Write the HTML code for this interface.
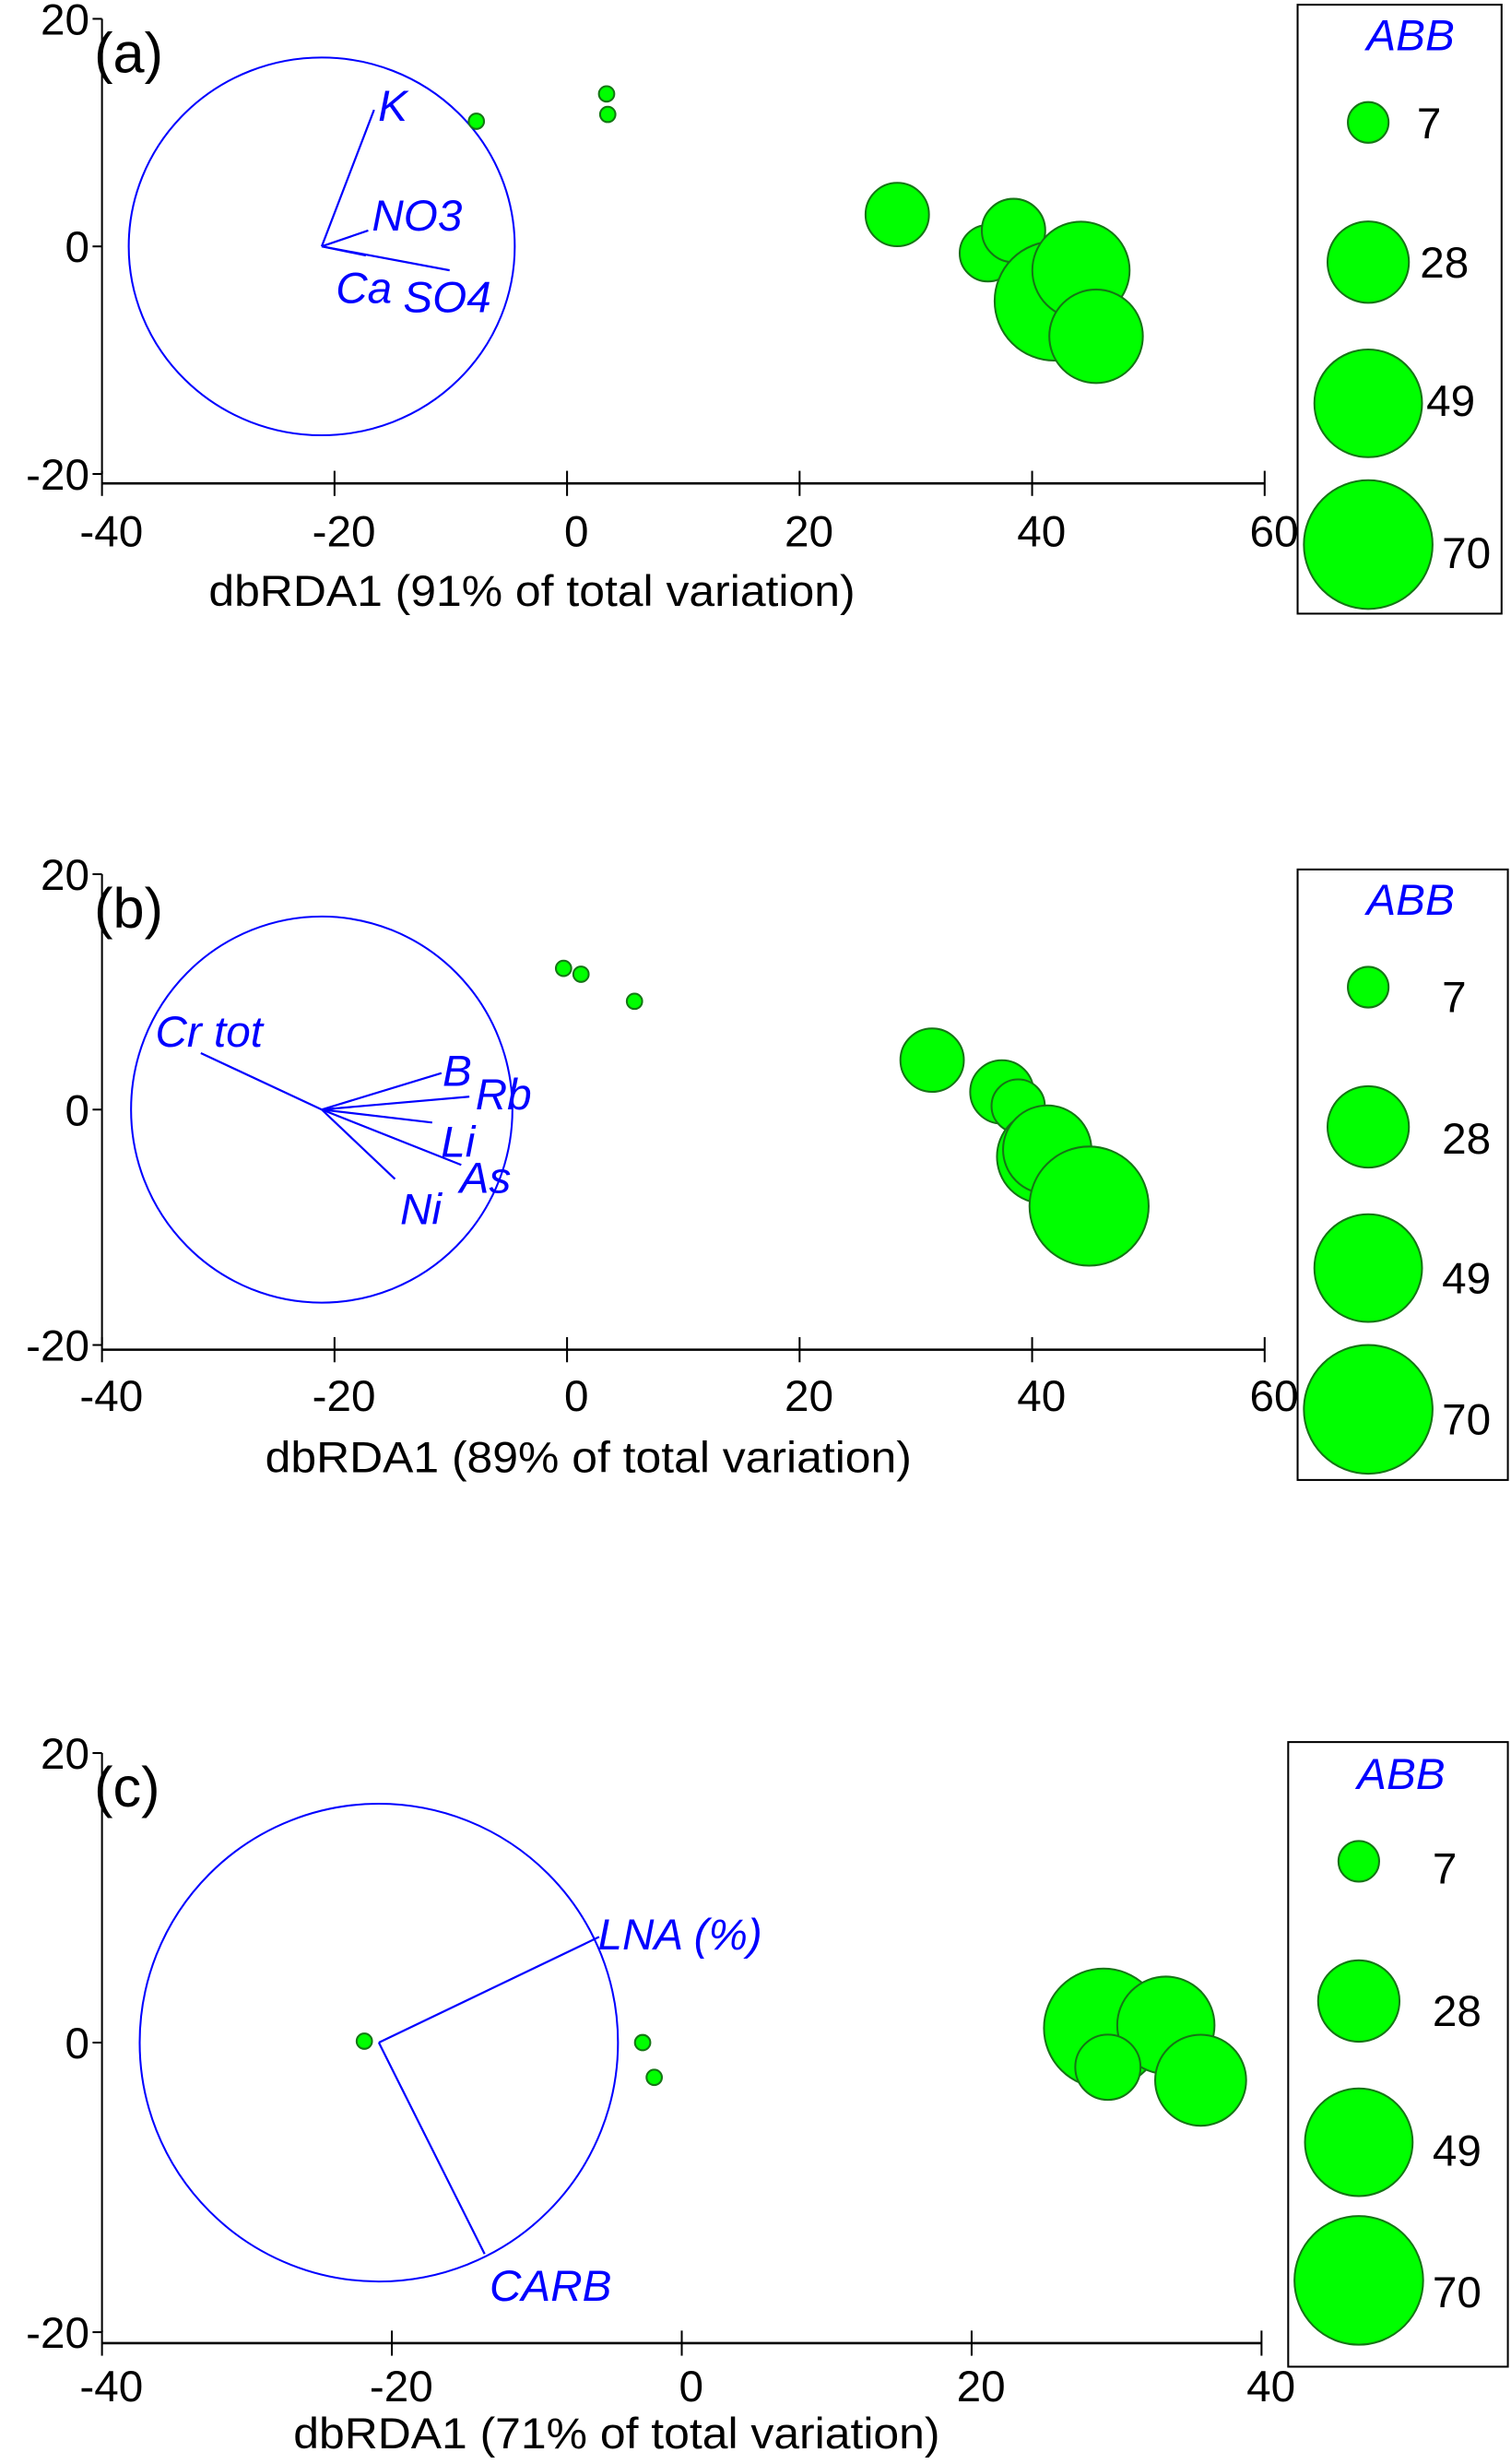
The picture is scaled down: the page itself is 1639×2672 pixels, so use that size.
<!DOCTYPE html>
<html><head><meta charset="utf-8">
<style>
html,body{margin:0;padding:0;background:#fff;}
svg{display:block;}
text{font-family:"Liberation Sans",sans-serif;}
</style></head>
<body>
<svg id="chart" width="1639" height="2672" viewBox="0 0 963 1570" preserveAspectRatio="none" xmlns="http://www.w3.org/2000/svg"></svg>
<script>
// ---- data (panel a) ----
const aX = [-7.8, 3.4, 3.5, 28.4, 36.2, 38.4, 41.9, 44.2, 45.5];
const aY = [11.0, 13.4, 11.6, 2.8, -0.6, 1.4, -4.8, -2.1, -7.9];
const aABB = [1, 1, 1, 17, 13.5, 17, 60, 40, 37];
const aVecNames = ["K", "NO3", "Ca", "SO4"];
const aVecX = [4.5, 4.0, 3.8, 11.0];
const aVecY = [12.0, 1.4, -0.8, -2.1];
// ---- data (panel b) ----
const bX = [-0.3, 1.2, 5.8, 31.4, 37.4, 38.8, 41.0, 41.3, 44.9];
const bY = [12.0, 11.5, 9.2, 4.2, 1.5, 0.3, -4.0, -3.4, -8.2];
const bABB = [1, 1, 1, 17, 17, 12, 37, 33, 60];
const bVecNames = ["Cr tot", "B", "Rb", "Li", "As", "Ni"];
const bVecX = [-10.4, 10.3, 12.7, 9.5, 12.0, 6.3];
const bVecY = [4.8, 3.1, 1.1, -1.1, -4.7, -5.9];
// ---- data (panel c) ----
const cX = [-21.9, -2.7, -1.9, 29.1, 33.4, 29.4, 35.8];
const cY = [0.1, 0.0, -2.4, 1.0, 1.2, -1.7, -2.6];
const cABB = [1, 1, 1, 60, 40, 18, 35];
const cVecNames = ["LNA (%)", "CARB"];
const cVecX = [15.2, 7.3];
const cVecY = [7.3, -14.6];
// ---- ticks / legend ----
const xTicksAB = [-40, -20, 0, 20, 40, 60];
const xTicksC = [-40, -20, 0, 20, 40];
const yTicks = [20, 0, -20];
const legendVals = [7, 28, 49, 70];

const svg = document.getElementById('chart');
const NS = 'http://www.w3.org/2000/svg';
function mk(tag, attrs, parent) {
  const e = document.createElementNS(NS, tag);
  for (const k in attrs) e.setAttribute(k, attrs[k]);
  (parent || svg).appendChild(e);
  return e;
}
function rad(v) { return 4.9 * Math.sqrt(v); }

const panels = [
  {id:'a', X:aX, Y:aY, A:aABB, vn:aVecNames, vx:aVecX, vy:aVecY,
   x0:65, x1:806, xmin:-40, xmax:60, yTop:12, yBot:302, axisY:308, ticks:xTicksAB,
   title:'dbRDA1 (91% of total variation)', titleX:133, titleY:386, tickLabY:348,
   cx:-21.1, cy:0, cr:16.6,
   labels:[[241,77],[237,147],[214,193],[257,199]],
   leg:{x:827,y:3,w:130,h:388,abbX:899,abbY:32,cxp:872,cy:[78,167,257,347],nx:[903,905,909,919],ny:[88,177,265,362]}},
  {id:'b', X:bX, Y:bY, A:bABB, vn:bVecNames, vx:bVecX, vy:bVecY,
   x0:65, x1:806, xmin:-40, xmax:60, yTop:557, yBot:857, axisY:860, ticks:xTicksAB,
   title:'dbRDA1 (89% of total variation)', titleX:169, titleY:938, tickLabY:899,
   cx:-21.1, cy:0, cr:16.4,
   labels:[[99,667],[282,692],[303,707],[281,737],[293,760],[255,780]],
   leg:{x:827,y:554,w:134,h:389,abbX:899,abbY:583,cxp:872,cy:[629,718,808,898],nx:[919,919,919,919],ny:[645,735,824,914]}},
  {id:'c', X:cX, Y:cY, A:cABB, vn:cVecNames, vx:cVecX, vy:cVecY,
   x0:65, x1:804, xmin:-40, xmax:40, yTop:1117, yBot:1486, axisY:1493, ticks:xTicksC,
   title:'dbRDA1 (71% of total variation)', titleX:187, titleY:1560, tickLabY:1530,
   cx:-20.9, cy:0, cr:16.5,
   labels:[[381,1242],[312,1466]],
   leg:{x:821,y:1110,w:140,h:398,abbX:893,abbY:1140,cxp:866,cy:[1186,1275,1365,1453],nx:[913,913,913,913],ny:[1200,1291,1380,1470]}}
];

panels.forEach(p => {
  const g = mk('g', {});
  
  
  const sx = v => p.x0 + (v - p.xmin) / (p.xmax - p.xmin) * (p.x1 - p.x0);
  const sy = v => p.yTop + (20 - v) / 40 * (p.yBot - p.yTop);
  const kx = (p.x1 - p.x0) / (p.xmax - p.xmin);
  const ky = (p.yBot - p.yTop) / 40;

  const ya = mk('line', {x1:p.x0, y1:p.yTop, x2:p.x0, y2:p.yBot, stroke:'#000', 'stroke-width':1.2}, g);
  
  
  yTicks.forEach(t => {
    mk('line', {x1:p.x0 - 6, y1:sy(t), x2:p.x0, y2:sy(t), stroke:'#000', 'stroke-width':1.2}, g);
    const tl = mk('text', {x:p.x0 - 8, y:sy(t) + 10, 'text-anchor':'end', 'font-size':28, fill:'#000'}, g);
    tl.textContent = t;
    
    
  });
  const xa = mk('line', {x1:p.x0, y1:p.axisY, x2:p.x1, y2:p.axisY, stroke:'#000', 'stroke-width':1.5}, g);
  
  
  p.ticks.forEach(t => {
    mk('line', {x1:sx(t), y1:p.axisY - 8, x2:sx(t), y2:p.axisY + 8, stroke:'#000', 'stroke-width':1.2}, g);
    const tl = mk('text', {x:sx(t) + 6, y:p.tickLabY, 'text-anchor':'middle', 'font-size':28, fill:'#000'}, g);
    tl.textContent = t;
    
    
  });
  const tt = mk('text', {x:p.titleX, y:p.titleY, 'font-size':28, fill:'#000', textLength:412, lengthAdjust:'spacingAndGlyphs'}, g);
  tt.textContent = p.title;
  
  
  const pl = mk('text', {x:p.x0 - 5, y:p.yTop + 34, 'font-size':36, fill:'#000'}, g);
  pl.textContent = '(' + p.id + ')';
  
  

  const circ = mk('ellipse', {cx:sx(p.cx), cy:sy(p.cy), rx:p.cr * kx, ry:p.cr * ky, fill:'none', stroke:'#0000ff', 'stroke-width':1.2}, g);
  
  
  p.vn.forEach((n, i) => {
    const ln = mk('line', {x1:sx(p.cx), y1:sy(p.cy), x2:sx(p.cx + p.vx[i]), y2:sy(p.cy + p.vy[i]), stroke:'#0000ff', 'stroke-width':1.3}, g);
    
    
    const lt = mk('text', {x:p.labels[i][0], y:p.labels[i][1], 'font-size':28, 'font-style':'italic', fill:'#0000ff'}, g);
    lt.textContent = n;
    
    
  });

  p.X.forEach((v, i) => {
    const c = mk('circle', {cx:sx(v), cy:sy(p.Y[i]), r:rad(p.A[i]), fill:'#00ff00', stroke:'#157515', 'stroke-width':1.2}, g);
    
    
  });

  const L = p.leg;
  const lb = mk('rect', {x:L.x, y:L.y, width:L.w, height:L.h, fill:'none', stroke:'#000', 'stroke-width':1.2}, g);
  
  
  const lt = mk('text', {x:L.abbX, y:L.abbY, 'text-anchor':'middle', 'font-size':28, 'font-style':'italic', fill:'#0000ff'}, g);
  lt.textContent = 'ABB';
  
  
  legendVals.forEach((v, i) => {
    const c = mk('circle', {cx:L.cxp, cy:L.cy[i], r:rad(v), fill:'#00ff00', stroke:'#157515', 'stroke-width':1.2}, g);
    
    
    const t = mk('text', {x:L.nx[i], y:L.ny[i], 'font-size':28, fill:'#000'}, g);
    t.textContent = v;
    
    
  });
});
</script>
</body></html>
